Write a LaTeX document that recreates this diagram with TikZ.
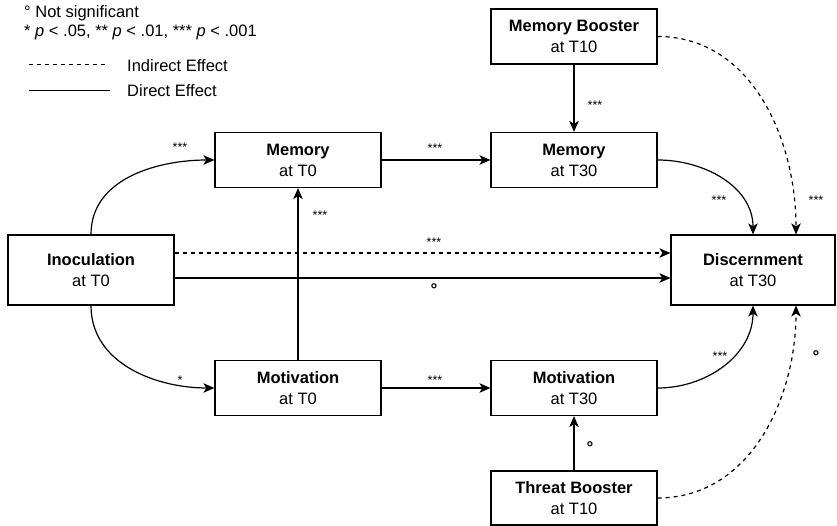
\documentclass[tikz,border=0pt]{standalone}
\usepackage{fontspec}
\setmainfont{Liberation Sans}
\usetikzlibrary{arrows.meta,calc}

\begin{document}
\begin{tikzpicture}[x=1pt,y=1pt,
  box/.style={draw,line width=1.2pt,minimum width=166pt,minimum height=55pt,
    inner sep=0pt,align=center,font=\fontsize{16.5}{21}\selectfont},
  conn/.style={line width=1.2pt,-{Stealth[length=11pt,width=9.5pt,inset=3pt]}},
  ind/.style={conn,dash pattern=on 4pt off 4pt},
  sig/.style={font=\fontsize{12.5}{12}\selectfont,inner sep=0pt,anchor=base},
  ns/.style={font=\fontsize{17}{17}\selectfont\bfseries,inner sep=0pt,anchor=base},
  legend/.style={font=\fontsize{16.5}{16}\selectfont,inner sep=0pt,anchor=base west},
]
\useasboundingbox (0,0) rectangle (837,-526);

% legend
\node[legend] (ns) at (24,-18) {° Not significant};
\node[legend] (pv) at (24,-37) {* \textit{p} < .05, ** \textit{p} < .01, *** \textit{p} < .001};
\node[legend] (li) at (127,-72) {Indirect Effect};
\node[legend] (ld) at (127,-97) {Direct Effect};
\coordinate (ia) at (29,-65);
\coordinate (ib) at (108,-65);
\coordinate (da) at (29,-91);
\coordinate (db) at (110,-91);
\draw[line width=1pt,dash pattern=on 4pt off 4pt] (ia) -- (ib);
\draw[line width=1pt] (da) -- (db);

% boxes
\node[box,minimum height=70pt] (inoc) at (91,-270) {\textbf{Inoculation}\\at T0};
\node[box] (memA) at (298,-160) {\textbf{Memory}\\at T0};
\node[box] (motA) at (298,-388) {\textbf{Motivation}\\at T0};
\node[box] (memB) at (574,-36.5) {\textbf{Memory Booster}\\at T10};
\node[box] (memC) at (574,-160) {\textbf{Memory}\\at T30};
\node[box] (motC) at (574,-388) {\textbf{Motivation}\\at T30};
\node[box,minimum height=54pt] (thrB) at (574,-498) {\textbf{Threat Booster}\\at T10};
\node[box,minimum height=70pt,minimum width=164pt] (disc) at (753,-270) {\textbf{Discernment}\\at T30};

% paths
\draw[conn] (inoc.north) to[out=90,in=180] (memA.west);
\draw[conn] (inoc.south) to[out=-90,in=180] (motA.west);
\draw[conn] (motA) -- (memA);
\draw[conn] (memA) -- (memC);
\draw[conn] (motA) -- (motC);
\draw[conn] (memB) -- (memC);
\draw[conn] (thrB) -- (motC);
\draw[conn] (memC.east) to[out=0,in=90] (disc.north);
\draw[conn] (motC.east) to[out=0,in=-90] (disc.south);
\draw[ind] (memB.east) to[out=0,in=90] ([xshift=43pt]disc.north);
\draw[ind] (thrB.east) to[out=0,in=-90] ([xshift=43pt]disc.south);
\draw[ind] ([yshift=17pt]inoc.east) -- ([yshift=17pt]disc.west);
\draw[conn] ([yshift=-8pt]inoc.east) -- ([yshift=-8pt]disc.west);

% significance marks
\node[sig] at (180,-152) {***};
\node[sig] at (180,-384) {*};
\node[sig] at (320,-220) {***};
\node[sig] at (435,-153) {***};
\node[sig] at (435,-384) {***};
\node[sig] at (595,-110) {***};
\node[sig] at (719,-205) {***};
\node[sig] at (816,-205) {***};
\node[sig] at (434,-247) {***};
\node[sig] at (720,-360) {***};
\node[ns] at (434,-296) {°};
\node[ns] at (816,-362) {°};
\node[ns] at (590,-453) {°};
\end{tikzpicture}
\end{document}
